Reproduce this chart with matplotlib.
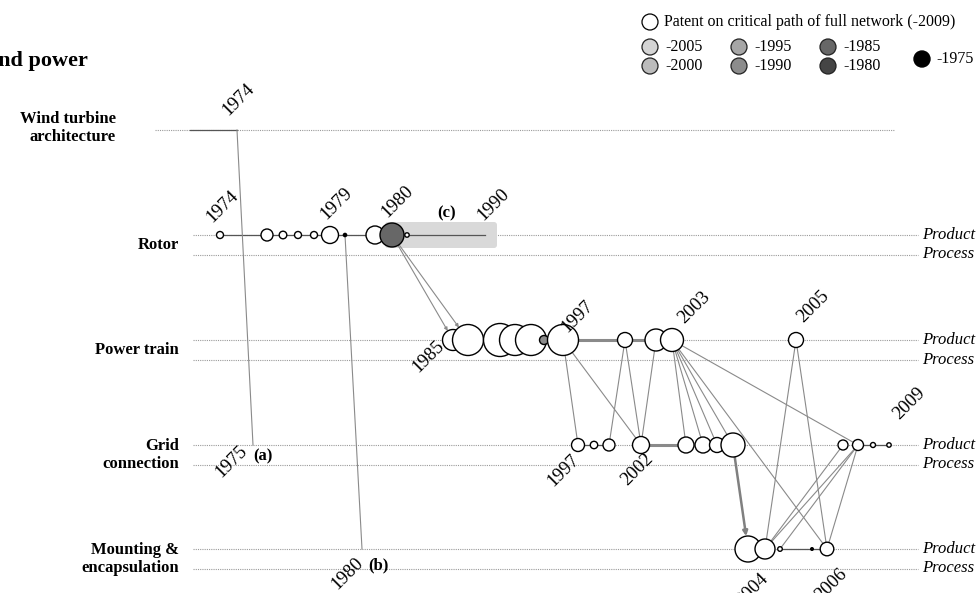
import matplotlib
matplotlib.use("Agg")
import matplotlib.pyplot as plt
from matplotlib.patches import Circle, FancyBboxPatch, FancyArrowPatch

plt.rcParams['font.family'] = ['Liberation Serif', 'DejaVu Serif']

## Data

rows = ["Wind turbine\narchitecture", "Rotor", "Power train", "Grid\nconnection", "Mounting &\nencapsulation"]
periods = ["-2009", "-2005", "-2000", "-1995", "-1990", "-1985", "-1980", "-1975"]
period_color = ["white", "#d4d4d4", "#bcbcbc", "#a6a6a6", "#8c8c8c", "#676767", "#454545", "black"]

# patents on the critical path: row, position along the path, circle size, period
node_row = [1]*11 + [2]*11 + [3]*12 + [4]*5 + [0, 0, 3, 4]
node_x = [220, 267, 283, 298, 314, 330, 345, 375, 392, 407, 485,
          453, 468, 500, 515, 531, 544, 563, 625, 656, 672, 796,
          578, 594, 609, 641, 686, 703, 717, 733, 843, 858, 873, 889,
          748, 765, 780, 812, 827,
          190, 237, 253, 362]
node_r = [3.5, 6, 3.8, 3.5, 3.5, 8.5, 1.6, 9, 12, 2.2, 0,
          10.5, 15.5, 16.5, 15.5, 15.5, 4.5, 15.5, 7.5, 11, 11.5, 7.5,
          6.5, 3.7, 6, 8.5, 8, 8, 7.5, 12, 5, 5.5, 2.5, 2.2,
          13, 10, 2.3, 1.3, 6.8,
          0, 0, 0, 0]
node_period = ["-2009"]*len(node_x)
node_period[6] = "-1975"
node_period[8] = "-1985"
node_period[16] = "-1990"
node_period[37] = "-1975"

# links along a row (thin / thick)
path_thin = [(0, 10), (22, 24), (31, 33), (36, 38), (39, 40)]
path_thick = [(17, 20), (25, 26)]
# citations between rows
cross_links = [(17, 22), (17, 25), (18, 24), (18, 25), (19, 25),
               (20, 26), (20, 27), (20, 28), (20, 29), (20, 38), (20, 31),
               (21, 35), (21, 38), (30, 35), (31, 35), (31, 36), (31, 38)]
long_links = [(40, 41), (6, 42)]
arrow_links = [(8, 11), (8, 12)]
thick_arrows = [(29, 34)]

# year labels (text, x, y)
year_labels = [("1974", 238, 100), ("1974", 222, 207), ("1979", 336, 204), ("1980", 397, 202),
               ("1990", 493, 205), ("1985", 428, 357), ("1997", 577, 317), ("2003", 694, 308),
               ("2005", 813, 307), ("1997", 563, 471), ("2002", 637, 470), ("2009", 909, 404),
               ("1975", 231, 462), ("1980", 347, 574), ("2004", 752, 590), ("2006", 831, 585)]
notes = [("(a)", 263, 456), ("(b)", 378, 565), ("(c)", 447, 213)]

## Layout

row_y = [130, 235, 340, 445, 549]
gap = 19.5

fig = plt.figure(figsize=(9.77, 5.93), dpi=100)
ax = fig.add_axes([0, 0, 1, 1])
ax.set_xlim(0, 977)
ax.set_ylim(593, 0)
ax.axis("off")

dot = dict(color="#9a9a9a", lw=0.8, ls=(0, (1, 1)), zorder=1)

# rows
for i, name in enumerate(rows):
    y = row_y[i]
    if i == 0:
        ax.plot([155, 895], [y, y], **dot)
        ax.text(116, y - 2, name, ha="right", va="center", fontsize=12, fontweight="bold", linespacing=1.2)
    else:
        ax.plot([193, 918], [y, y], **dot)
        ax.plot([193, 918], [y + gap, y + gap], **dot)
        ax.text(179, y + gap / 2, name, ha="right", va="center", fontsize=12, fontweight="bold", linespacing=1.2)
        ax.text(922, y, "Product", ha="left", va="center", fontsize=12, style="italic")
        ax.text(922, y + gap, "Process", ha="left", va="center", fontsize=12, style="italic")

def pos(k):
    return node_x[k], row_y[node_row[k]]

def edge_points(a, b):
    (x1, y1), (x2, y2) = pos(a), pos(b)
    d = ((x2 - x1) ** 2 + (y2 - y1) ** 2) ** 0.5
    ux, uy = (x2 - x1) / d, (y2 - y1) / d
    return (x1 + ux * node_r[a], y1 + uy * node_r[a]), (x2 - ux * node_r[b], y2 - uy * node_r[b])

# highlighted (c) box
ax.add_patch(FancyBboxPatch((388, 225), 106, 20, boxstyle="round,pad=3", fc="#d9d9d9", ec="none", zorder=1.5))

for a, b in path_thin:
    (x1, y1), (x2, y2) = pos(a), pos(b)
    ax.plot([x1, x2], [y1, y2], color="#555555", lw=0.9, zorder=2)
for a, b in path_thick:
    (x1, y1), (x2, y2) = pos(a), pos(b)
    ax.plot([x1, x2], [y1, y2], color="#8a8a8a", lw=2.2, zorder=2)
for a, b in cross_links + long_links:
    (x1, y1), (x2, y2) = pos(a), pos(b)
    ax.plot([x1, x2], [y1, y2], color="#8a8a8a", lw=0.8, zorder=2)
for a, b in arrow_links:
    p1, p2 = edge_points(a, b)
    ax.add_patch(FancyArrowPatch(p1, p2, arrowstyle="-|>", mutation_scale=5, color="#8a8a8a",
                                 lw=0.8, shrinkA=0, shrinkB=0, zorder=2))
for a, b in thick_arrows:
    p1, p2 = edge_points(a, b)
    ax.add_patch(FancyArrowPatch(p1, p2, arrowstyle="-|>", mutation_scale=7, color="#808080",
                                 lw=1.8, shrinkA=0, shrinkB=0, zorder=2))

for k in range(len(node_x)):
    if node_r[k] == 0:
        continue
    fc = period_color[periods.index(node_period[k])]
    ax.add_patch(Circle(pos(k), node_r[k], fc=fc, ec="black", lw=1.0, zorder=3 + k * 0.01))

for t, x, y in year_labels:
    ax.text(x, y, t, rotation=45, ha="center", va="center", fontsize=13.5, zorder=5)
for t, x, y in notes:
    ax.text(x, y, t, ha="center", va="center", fontsize=12, fontweight="bold", zorder=5)

# title (cut at the left edge as in the source)
ax.text(88, 66, "Wind power", ha="right", va="baseline", fontsize=16, fontweight="bold", clip_on=False)

# legend
ax.add_patch(Circle((650, 22), 8, fc="white", ec="black", lw=0.9))
ax.text(664, 22, "Patent on critical path of full network (-2009)", ha="left", va="center", fontsize=11.5)
leg_x = [650, 650, 739, 739, 828, 828]
leg_y = [47, 66, 47, 66, 47, 66]
for k, p in enumerate(periods[1:7]):
    ax.add_patch(Circle((leg_x[k], leg_y[k]), 8, fc=period_color[k + 1], ec="#222222", lw=0.9))
    ax.text(leg_x[k] + 15, leg_y[k], p, ha="left", va="center", fontsize=11.5)
ax.add_patch(Circle((922, 59), 8, fc="black", ec="black"))
ax.text(936, 59, periods[7], ha="left", va="center", fontsize=11.5)

fig.savefig("out.png", dpi=100)
